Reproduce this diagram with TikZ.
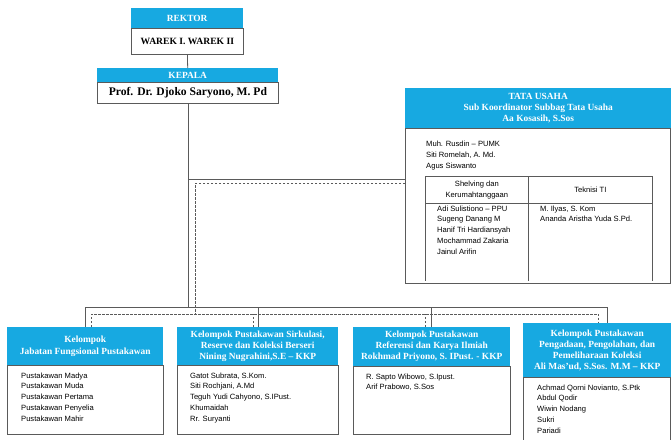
\documentclass[tikz,border=0pt]{standalone}
\usepackage{fontspec}
\setmainfont{Liberation Serif}
\setsansfont{Liberation Sans}
\definecolor{hblue}{HTML}{17A9E1}
\definecolor{lc}{HTML}{5A5A5A}
\newcommand{\hfnt}{\rmfamily\bfseries\fontsize{9.4}{11}\selectfont}
\newcommand{\bfnt}{\sffamily\fontsize{7.6}{10.75}\selectfont}
\tikzset{
  hdrbox/.style={fill=hblue, anchor=north west, inner sep=0pt, text=white, font=\hfnt, align=center},
  bodybox/.style={draw=lc, fill=white, line width=0.8pt, anchor=north west, inner sep=0pt},
  btxt/.style={anchor=north west, inner sep=0pt, font=\bfnt, align=left},
  conn/.style={draw=lc, line width=0.8pt},
  dconn/.style={conn, dash pattern=on 2.5pt off 1.5pt}
}
\begin{document}
\begin{tikzpicture}[x=1pt,y=-1pt]
\useasboundingbox[fill=white] (0,0) rectangle (671,439);
% Rektor
\node[hdrbox, minimum width=112pt, minimum height=20pt] (rekH) at (131,8) {REKTOR};
\node[bodybox, minimum width=112pt, minimum height=26pt, font=\rmfamily\bfseries\fontsize{9.6}{11}\selectfont] (rekB) at (131,28) {WAREK I. WAREK II};
% Kepala
\node[hdrbox, minimum width=181pt, minimum height=14pt] (kepH) at (97,68) {KEPALA};
\node[bodybox, minimum width=181pt, minimum height=21pt, font=\rmfamily\bfseries\fontsize{11.6}{13}\selectfont] (kepB) at (97,82) {Prof. Dr. Djoko Saryono, M. Pd};
% Tata Usaha
\node[hdrbox, minimum width=266pt, minimum height=40pt] (tuH) at (405,88) {TATA USAHA\\Sub Koordinator Subbag Tata Usaha\\Aa Kosasih, S.Sos};
\node[bodybox, minimum width=265pt, minimum height=155pt] (tuB) at (405,128) {};
\node[btxt] (tuT) at (426,141) {Muh. Rusdin -- PUMK\\Siti Romelah, A. Md.\\Agus Siswanto};
\node[draw=lc, line width=0.8pt, anchor=north west, inner sep=0pt, minimum width=103pt, minimum height=27pt, font=\bfnt, align=center] (shH) at (425,176) {Shelving dan\\Kerumahtanggaan};
\node[draw=lc, line width=0.8pt, anchor=north west, inner sep=0pt, minimum width=124pt, minimum height=27pt, font=\bfnt, align=center] (tkH) at (528,176) {Teknisi TI};
\coordinate (tblbot) at (0,281);
\draw[conn] (shH.south west) -- (shH.south west |- tblbot);
\draw[conn] (shH.south east) -- (shH.south east |- tblbot);
\draw[conn] (tkH.south east) -- (tkH.south east |- tblbot);
\node[btxt] (shT) at (437,205.5) {Adi Sulistiono -- PPU\\Sugeng Danang M\\Hanif Tri Hardiansyah\\Mochammad Zakaria\\Jainul Arifin};
\node[btxt] (tkT) at (540,205.5) {M. Ilyas, S. Kom\\Ananda Aristha Yuda S.Pd.};
% Bottom boxes
\node[hdrbox, minimum width=156pt, minimum height=38pt, font=\rmfamily\bfseries\fontsize{9.4}{12.5}\selectfont] (b1H) at (7,327) {Kelompok\\Jabatan Fungsional Pustakawan};
\node[bodybox, minimum width=156pt, minimum height=69pt] (b1B) at (7,365) {};
\node[btxt] (b1T) at (21,372.5) {Pustakawan Madya\\Pustakawan Muda\\Pustakawan Pertama\\Pustakawan Penyelia\\Pustakawan Mahir};
\node[hdrbox, minimum width=161pt, minimum height=38pt] (b2H) at (177,327) {Kelompok Pustakawan Sirkulasi,\\Reserve dan Koleksi Berseri\\Nining Nugrahini,S.E -- KKP};
\node[bodybox, minimum width=161pt, minimum height=69pt] (b2B) at (177,365) {};
\node[btxt] (b2T) at (190,372.5) {Gatot Subrata, S.Kom.\\Siti Rochjani, A.Md\\Teguh Yudi Cahyono, S.IPust.\\Khumaidah\\Rr. Suryanti};
\node[hdrbox, minimum width=157pt, minimum height=39pt] (b3H) at (353,327) {Kelompok Pustakawan\\Referensi dan Karya Ilmiah\\Rokhmad Priyono, S. IPust. - KKP};
\node[bodybox, minimum width=157pt, minimum height=68pt] (b3B) at (353,366) {};
\node[btxt] (b3T) at (366,373.5) {R. Sapto Wibowo, S.Ipust.\\Arif Prabowo, S.Sos};
\node[hdrbox, minimum width=148pt, minimum height=54pt] (b4H) at (523,323) {Kelompok Pustakawan\\Pengadaan, Pengolahan, dan\\Pemeliharaan Koleksi\\Ali Mas'ud, S.Sos. M.M -- KKP};
\node[bodybox, minimum width=147pt, minimum height=68pt] (b4B) at (523,377) {};
\node[btxt] (b4T) at (537,384.5) {Achmad Qorni Novianto, S.Ptk\\Abdul Qodir\\Wiwin Nodang\\Sukri\\Pariadi};
% connectors
\draw[conn] (rekB.south) -- (kepH.north);
\coordinate (sh) at (0,307);
\coordinate (dh) at (0,314);
\coordinate (j1) at (0,179);
\coordinate (dtop) at (195,183);
\draw[conn] (kepB.south) -- (kepB.south |- sh);
\draw[conn] (kepB.south |- j1) -- (tuB.west |- j1);
\draw[conn] (b1H.north) -- (b1H.north |- sh) -- ([xshift=10pt]b4H.north |- sh) -- ([xshift=10pt]b4H.north);
\draw[conn] ([xshift=1pt]b2H.north) -- ([xshift=1pt]b2H.north |- sh);
\draw[conn] (b3H.north) -- (b3H.north |- sh);
\draw[dconn] (tuB.west |- dtop) -- (dtop) -- (dtop |- dh);
\draw[dconn] ([xshift=6pt]b1H.north) -- ([xshift=6pt]b1H.north |- dh) -- ([xshift=1.5pt]b4H.north |- dh) -- ([xshift=1.5pt]b4H.north);
\draw[dconn] ([xshift=-4.5pt]b2H.north) -- ([xshift=-4.5pt]b2H.north |- dh);
\draw[dconn] ([xshift=-6.5pt]b3H.north) -- ([xshift=-6.5pt]b3H.north |- dh);
\end{tikzpicture}
\end{document}
